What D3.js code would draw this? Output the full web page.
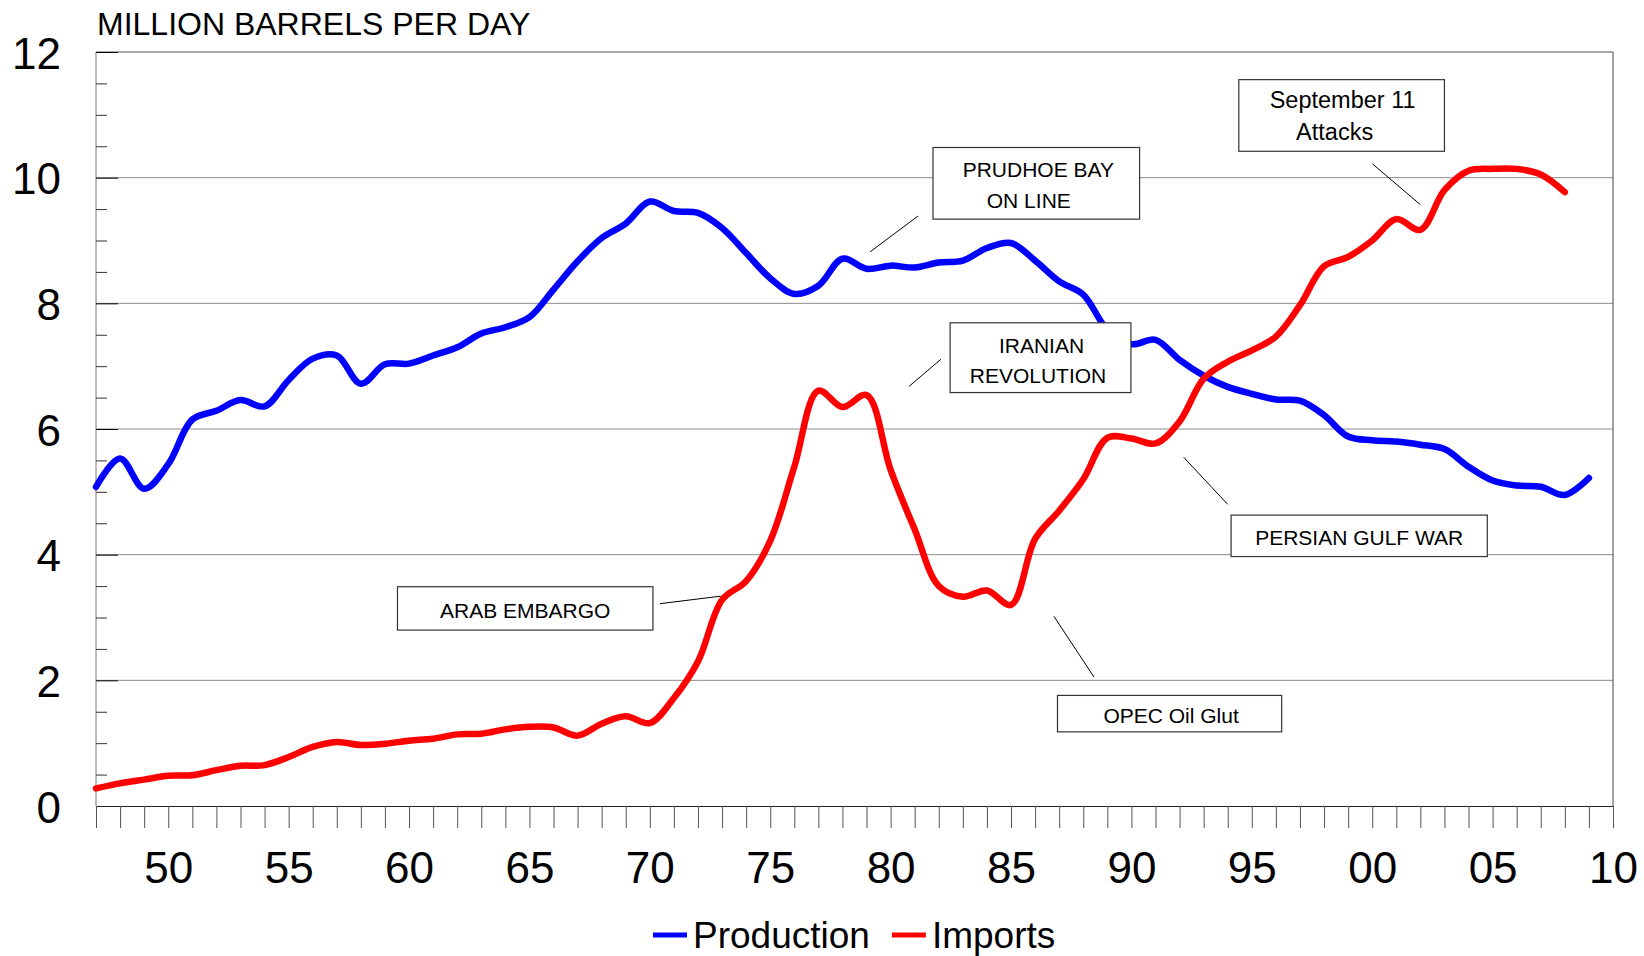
<!DOCTYPE html>
<meta charset="utf-8">
<style>
body { margin: 0; background: #fff; }
text { font-family: "Liberation Sans", Arial, sans-serif; fill: #000; }
.grid line { stroke: #8c8c8c; stroke-width: 1; }
</style>
<body>
<script src="https://cdn.jsdelivr.net/npm/d3@7"></script>
<script>

// years on the x axis (1947 .. 2009)
var years = [1947, 1948, 1949, 1950, 1951, 1952, 1953, 1954, 1955, 1956,
             1957, 1958, 1959, 1960, 1961, 1962, 1963, 1964, 1965, 1966,
             1967, 1968, 1969, 1970, 1971, 1972, 1973, 1974, 1975, 1976,
             1977, 1978, 1979, 1980, 1981, 1982, 1983, 1984, 1985, 1986,
             1987, 1988, 1989, 1990, 1991, 1992, 1993, 1994, 1995, 1996,
             1997, 1998, 1999, 2000, 2001, 2002, 2003, 2004, 2005, 2006,
             2007, 2008, 2009];

// million barrels per day
var production = [5.08, 5.53, 5.05, 5.44, 6.15, 6.29, 6.46, 6.36, 6.78, 7.12,
                  7.17, 6.72, 7.03, 7.04, 7.17, 7.30, 7.52, 7.62, 7.78, 8.22,
                  8.67, 9.04, 9.27, 9.62, 9.47, 9.44, 9.20, 8.80, 8.40, 8.15,
                  8.28, 8.71, 8.55, 8.60, 8.57, 8.65, 8.68, 8.88, 8.96, 8.68,
                  8.35, 8.14, 7.58, 7.35, 7.42, 7.10, 6.85, 6.67, 6.56, 6.47,
                  6.45, 6.22, 5.88, 5.82, 5.80, 5.75, 5.68, 5.40, 5.18, 5.10,
                  5.08, 4.95, 5.22];

var imports = [0.28, 0.36, 0.42, 0.48, 0.49, 0.57, 0.64, 0.65, 0.78, 0.94,
               1.02, 0.97, 0.99, 1.04, 1.07, 1.14, 1.15, 1.22, 1.26, 1.25,
               1.12, 1.31, 1.43, 1.32, 1.72, 2.30, 3.28, 3.58, 4.22, 5.40,
               6.61, 6.35, 6.54, 5.35, 4.40, 3.50, 3.33, 3.43, 3.20, 4.25,
               4.70, 5.20, 5.86, 5.85, 5.77, 6.12, 6.80, 7.07, 7.25, 7.47,
               7.97, 8.59, 8.74, 9.00, 9.34, 9.17, 9.80, 10.11, 10.14, 10.14,
               10.05, 9.77];

var yTicks = [0, 2, 4, 6, 8, 10, 12];
var xLabelYears = [1950, 1955, 1960, 1965, 1970, 1975, 1980, 1985, 1990, 1995, 2000, 2005, 2010];
var xLabels = ["50", "55", "60", "65", "70", "75", "80", "85", "90", "95", "00", "05", "10"];

var seriesNames = ["Production", "Imports"];
var seriesColors = ["#0000ff", "#ff0000"];

// event notes: box corners and leader line ends in data units (year, value)
var noteLines = [["PRUDHOE BAY", "ON LINE"], ["September 11", "Attacks"], ["IRANIAN", "REVOLUTION"],
                 ["ARAB EMBARGO"], ["PERSIAN GULF WAR"], ["OPEC Oil Glut"]];
var noteBoxes = [[1981.76, 10.48, 1990.34, 9.34], [1994.46, 11.56, 2003.0, 10.42],
                 [1982.47, 7.69, 1989.98, 6.58], [1959.52, 3.49, 1970.13, 2.80],
                 [1994.14, 4.63, 2004.78, 3.97], [1986.93, 1.76, 1996.24, 1.18]];
var noteLeaders = [[1979.15, 8.82, 1981.14, 9.39], [2000.01, 10.22, 2002.0, 9.57],
                   [1982.09, 7.11, 1980.77, 6.68], [1970.42, 3.22, 1972.95, 3.34],
                   [1992.17, 5.55, 1994.0, 4.80], [1986.78, 3.02, 1988.45, 2.05]];

// layout
var margin = {top: 52, right: 31, bottom: 150, left: 96},
    width = 1644 - margin.left - margin.right,
    height = 956 - margin.top - margin.bottom;

var x = d3.scaleLinear().domain([1947, 2010]).range([0, width]);
var y = d3.scaleLinear().domain([0, 12]).range([height, 0]);

var svg = d3.select("body").append("svg")
    .attr("width", 1644)
    .attr("height", 956);

var g = svg.append("g")
    .attr("transform", "translate(" + margin.left + "," + margin.top + ")");

// title
svg.append("text")
    .attr("x", 97)
    .attr("y", 35)
    .style("font-size", "32px")
    .text("MILLION BARRELS PER DAY");

// horizontal grid
g.append("g")
    .attr("class", "grid")
    .selectAll("line")
    .data(yTicks.slice(1, -1))
  .enter().append("line")
    .attr("x1", 0)
    .attr("x2", width)
    .attr("y1", function(d) { return y(d); })
    .attr("y2", function(d) { return y(d); });

// frame
g.append("line").attr("x1", 0).attr("x2", width).attr("y1", 0).attr("y2", 0)
    .attr("stroke", "#555");
g.append("line").attr("x1", width).attr("x2", width).attr("y1", 0).attr("y2", height)
    .attr("stroke", "#444");
g.append("line").attr("x1", 0).attr("x2", 0).attr("y1", 0).attr("y2", height)
    .attr("stroke", "#777");

// y ticks, pointing into the plot
var minor = d3.range(0, 12.01, 0.5).filter(function(d) { return d % 2 !== 0; });
g.append("g")
    .call(d3.axisRight(y).tickValues(minor).tickSize(11).tickFormat(""))
    .call(function(a) { a.select(".domain").remove(); a.selectAll("line").attr("stroke", "#333"); });
g.append("g")
    .call(d3.axisRight(y).tickValues(yTicks).tickSize(22).tickFormat(""))
    .call(function(a) { a.select(".domain").remove(); a.selectAll("line").attr("stroke", "#000"); });

// y labels
g.append("g")
    .call(d3.axisLeft(y).tickValues(yTicks).tickSize(0).tickPadding(35))
    .call(function(a) {
      a.select(".domain").remove();
      a.selectAll("text")
        .attr("dy", "0.37em")
        .style("font-size", "44px")
        .style("font-family", "'Liberation Sans', Arial, sans-serif")
        .attr("fill", "#000");
    });

// x axis ticks every year
g.append("g")
    .attr("transform", "translate(0," + height + ")")
    .call(d3.axisBottom(x).tickValues(years.concat([2010])).tickSize(22).tickFormat(""))
    .call(function(a) {
      a.select(".domain").attr("stroke", "#222");
      a.selectAll(".tick line").attr("stroke", "#555");
    });

// x labels
g.append("g")
    .attr("transform", "translate(0," + height + ")")
    .call(d3.axisBottom(x).tickValues(xLabelYears).tickSize(0).tickPadding(46)
      .tickFormat(function(d, i) { return xLabels[i]; }))
    .call(function(a) {
      a.select(".domain").remove();
      a.selectAll("text")
        .style("font-size", "44px")
        .style("font-family", "'Liberation Sans', Arial, sans-serif")
        .attr("fill", "#000");
    });

// the two series
var line = d3.line()
    .curve(d3.curveCatmullRom.alpha(0.5))
    .x(function(d) { return x(d[0]); })
    .y(function(d) { return y(d[1]); });

var series = [production, imports];
series.forEach(function(vals, i) {
  var pts = vals.map(function(v, j) { return [years[j], v]; });
  g.append("path")
      .datum(pts)
      .attr("fill", "none")
      .attr("stroke", seriesColors[i])
      .attr("stroke-width", 6.5)
      .attr("stroke-linecap", "round")
      .attr("stroke-linejoin", "round")
      .attr("d", line);
});

// notes
var textOffsets = [[[2, 29], [-7.5, 60.5]], [[1, 28], [-7, 60]], [[1, 30.5], [-2.5, 60.5]],
                   [[0, 31.5]], [[0, 30.3]], [[1.5, 27.7]]];
var noteSizes = [21, 23.5, 21, 21, 21, 21];
noteLines.forEach(function(lines, i) {
  var b = noteBoxes[i], l = noteLeaders[i];
  g.append("line")
      .attr("x1", x(l[0])).attr("y1", y(l[1]))
      .attr("x2", x(l[2])).attr("y2", y(l[3]))
      .attr("stroke", "#000")
      .attr("stroke-width", 1);
  var bx = x(b[0]), by = y(b[1]), bw = x(b[2]) - x(b[0]), bh = y(b[3]) - y(b[1]);
  g.append("rect")
      .attr("x", bx).attr("y", by)
      .attr("width", bw).attr("height", bh)
      .attr("fill", "#fff")
      .attr("stroke", "#333")
      .attr("stroke-width", 1.2);
  lines.forEach(function(t, k) {
    g.append("text")
        .attr("x", bx + bw / 2 + textOffsets[i][k][0])
        .attr("y", by + textOffsets[i][k][1])
        .attr("text-anchor", "middle")
        .style("font-size", noteSizes[i] + "px")
        .text(t);
  });
});

// legend
var lx = 653;
seriesNames.forEach(function(name, i) {
  svg.append("line")
      .attr("x1", lx).attr("x2", lx + 34)
      .attr("y1", 935).attr("y2", 935)
      .attr("stroke", seriesColors[i])
      .attr("stroke-width", 5);
  var t = svg.append("text")
      .attr("x", lx + 40)
      .attr("y", 947.5)
      .style("font-size", "37px")
      .text(name);
  lx = lx + 40 + t.node().getComputedTextLength() + 22;
});

</script>
</body>
